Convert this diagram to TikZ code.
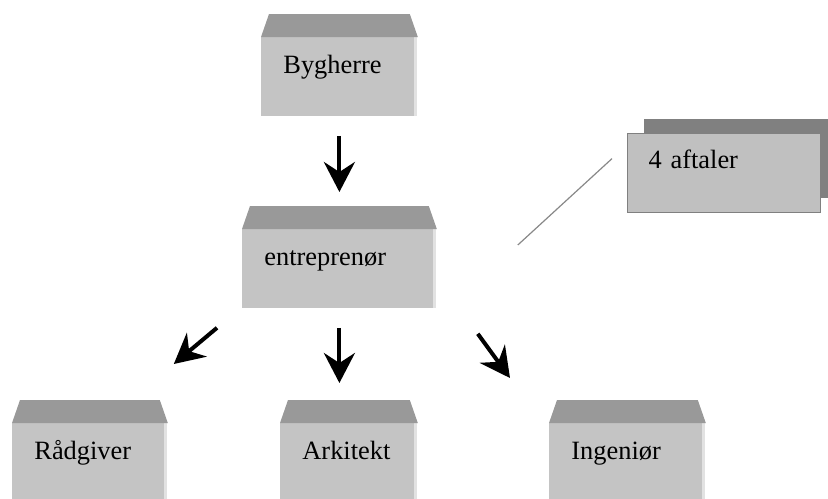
\documentclass[tikz,border=0pt]{standalone}
\usepackage{fontspec}
\setmainfont{Liberation Serif}
\usetikzlibrary{positioning, calc, arrows.meta, shadows}
\definecolor{roofGray}{RGB}{153, 153, 153}
\definecolor{bodyGray}{RGB}{196, 196, 196}
\definecolor{edgeLight}{RGB}{226, 226, 226}
\definecolor{noteFill}{RGB}{192, 192, 192}
\definecolor{noteDark}{RGB}{128, 128, 128}
\definecolor{lineGray}{RGB}{136, 136, 136}
\tikzset{
    base/.style={
        font=\fontsize{13.2}{15}\selectfont,
        align=left
    },
    firm/.style={
        base,
        rectangle,
        fill=bodyGray,
        inner xsep=11pt,
        inner ysep=0pt,
        text height=18pt,
        text depth=21.5pt,
        anchor=north west,
        path picture={
            \fill[edgeLight] ([xshift=-1.5pt]path picture bounding box.north east)
                rectangle (path picture bounding box.south east);
        }
    },
    note/.style={
        base,
        rectangle,
        draw=noteDark,
        line width=0.6pt,
        fill=noteFill,
        inner xsep=10.5pt,
        inner ysep=0pt,
        text height=17.5pt,
        text depth=22pt,
        anchor=north west,
        drop shadow={shadow xshift=8pt, shadow yshift=7.5pt, fill=noteDark, opacity=1}
    },
    flow/.style={
        -{Stealth[length=15pt, width=15.5pt, inset=5pt]},
        line width=2pt,
        color=black
    },
    link/.style={
        draw=lineGray,
        line width=0.6pt
    }
}

\begin{document}
\begin{tikzpicture}[x=0.5pt, y=-0.5pt]
    \useasboundingbox (0,0) rectangle (828,498);

    % Bygherre
    \node[firm, text width=56pt] (byg) at (261,37) {Bygherre};

    % entreprenør
    \node[firm, text width=75pt] (entr) at (242,229) {entreprenør};

    % bottom row
    \node[firm, text width=55.5pt] (rad) at (12,423) {Rådgiver};
    \node[firm, text width=46.5pt] (ark) at (280,423) {Arkitekt};
    \node[firm, text width=56pt] (ing) at (549,423) {Ingeniør};

    % roofs
    \foreach \n in {byg, entr, rad, ark, ing}
        \fill[roofGray] (\n.north west) -- ([shift={(8,-23)}]\n.north west)
            -- ([shift={(-8,-23)}]\n.north east) -- (\n.north east) -- cycle;

    % 4 aftaler
    \node[note, text width=75.5pt] (aft) at (627,133) {4 aftaler};
    \draw[link] ([shift={(81,16)}]entr.north east) -- ([shift={(-15,-14.5)}]aft.west);

    % arrows
    \draw[flow] ([shift={(0,19)}]byg.south) -- ([shift={(0,-37)}]entr.north);
    \draw[flow] ([shift={(-25,19)}]entr.south west) -- ([shift={(6,-59)}]rad.north east);
    \draw[flow] ([shift={(0,19)}]entr.south) -- ($(entr.south |- ark.north)+(0,-40)$);
    \draw[flow] ([shift={(41,25)}]entr.south east) -- ([shift={(-39,-45)}]ing.north west);

\end{tikzpicture}
\end{document}
